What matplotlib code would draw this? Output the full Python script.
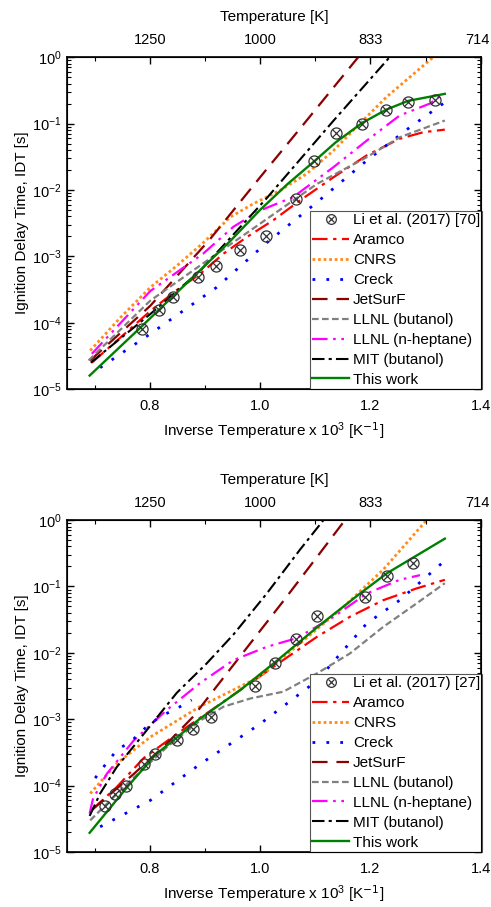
import numpy as np
import matplotlib
matplotlib.use('Agg')
import matplotlib.pyplot as plt
from matplotlib.legend_handler import HandlerTuple
from matplotlib.lines import Line2D
import matplotlib.transforms as mtransforms

plt.rcParams['font.family'] = ['Liberation Sans', 'DejaVu Sans']
plt.rcParams['mathtext.fontset'] = 'custom'
plt.rcParams['mathtext.rm'] = 'Liberation Sans'
plt.rcParams['mathtext.it'] = 'Liberation Sans:italic'

# ---- panel (a): Li et al. (2017) [70] ----
exp_a_x = [0.786, 0.816, 0.842, 0.888, 0.921, 0.963, 1.011, 1.065, 1.098, 1.137, 1.185, 1.229, 1.268, 1.318]
exp_a_y = [8.1e-5, 1.55e-4, 2.45e-4, 4.8e-4, 7.2e-4, 1.26e-3, 2.0e-3, 7.2e-3, 0.027, 0.072, 0.099, 0.162, 0.209, 0.229]

a_aramco_x = [0.695, 0.747, 0.801, 0.849, 0.891, 0.934, 0.976, 1.024, 1.072, 1.133, 1.193, 1.253, 1.296, 1.335]
a_aramco_y = [2.5e-5, 6.0e-5, 1.5e-4, 3.1e-4, 5.4e-4, 1.1e-3, 1.95e-3, 3.5e-3, 6.9e-3, 0.0155, 0.033, 0.059, 0.074, 0.081]
a_cnrs_x = [0.692, 0.747, 0.801, 0.849, 0.897, 0.946, 0.988, 1.036, 1.084, 1.133, 1.181, 1.229, 1.314]
a_cnrs_y = [3.8e-5, 1.2e-4, 3.4e-4, 7.2e-4, 1.6e-3, 3.9e-3, 6.2e-3, 9.8e-3, 0.0174, 0.039, 0.1, 0.25, 1.0]
a_creck_x = [0.71, 0.801, 0.921, 1.012, 1.103, 1.193, 1.271, 1.332]
a_creck_y = [2.1e-5, 6.8e-5, 3.4e-4, 1.6e-3, 6.5e-3, 0.0275, 0.087, 0.2]
a_jetsurf_x = [0.692, 0.801, 0.909, 1.0, 1.072, 1.178]
a_jetsurf_y = [2.7e-5, 1.8e-4, 1.8e-3, 0.0155, 0.083, 1.0]
a_llnl_but_x = [0.689, 0.801, 0.903, 1.0, 1.103, 1.193, 1.253, 1.335]
a_llnl_but_y = [2.7e-5, 2.15e-4, 8.5e-4, 3.1e-3, 0.0123, 0.031, 0.062, 0.111]
a_llnl_hep_x = [0.695, 0.801, 0.897, 0.952, 1.0, 1.06, 1.133, 1.193, 1.253, 1.308, 1.326]
a_llnl_hep_y = [3.4e-5, 3.0e-4, 1.1e-3, 2.8e-3, 4.9e-3, 7.8e-3, 0.022, 0.055, 0.132, 0.2, 0.257]
a_mit_x = [0.693, 0.801, 0.891, 1.012, 1.133, 1.235]
a_mit_y = [2.5e-5, 1.35e-4, 6.0e-4, 7.5e-3, 0.11, 1.0]
a_this_x = [0.691, 0.786, 0.842, 0.888, 0.946, 1.0, 1.05, 1.098, 1.137, 1.185, 1.229, 1.268, 1.335]
a_this_y = [1.6e-5, 8.9e-5, 2.5e-4, 5.8e-4, 1.7e-3, 5.0e-3, 0.0123, 0.0269, 0.052, 0.102, 0.162, 0.219, 0.28]

# ---- panel (b): Li et al. (2017) [27] ----
exp_b_x = [0.719, 0.737, 0.757, 0.789, 0.81, 0.849, 0.879, 0.911, 0.991, 1.027, 1.066, 1.104, 1.191, 1.23, 1.277]
exp_b_y = [5.0e-5, 7.6e-5, 1.0e-4, 2.15e-4, 3.0e-4, 4.8e-4, 7.2e-4, 1.07e-3, 3.2e-3, 7.1e-3, 0.0162, 0.0355, 0.069, 0.145, 0.224]

b_aramco_x = [0.695, 0.74, 0.789, 0.849, 0.921, 0.982, 1.042, 1.103, 1.163, 1.223, 1.283, 1.335]
b_aramco_y = [4.3e-5, 9.5e-5, 2.6e-4, 6.0e-4, 1.55e-3, 3.5e-3, 7.8e-3, 0.0174, 0.035, 0.062, 0.093, 0.126]
b_cnrs_x = [0.692, 0.74, 0.801, 0.891, 1.0, 1.072, 1.151, 1.223, 1.302]
b_cnrs_y = [7.6e-5, 2.15e-4, 5.4e-4, 1.55e-3, 4.4e-3, 0.0138, 0.049, 0.178, 1.0]
b_creck_x = [0.71, 0.801, 0.891, 1.0, 1.103, 1.193, 1.253, 1.335]
b_creck_y = [2.4e-5, 6.0e-5, 2.1e-4, 8.5e-4, 3.8e-3, 0.0275, 0.062, 0.245]
b_creck2_x = [0.701, 0.716, 0.74, 0.768, 0.795, 0.819, 0.849, 0.876]
b_creck2_y = [1.3e-4, 1.9e-4, 3.4e-4, 4.8e-4, 7.8e-4, 1.1e-3, 1.45e-3, 1.95e-3]
b_jetsurf_x = [0.695, 0.771, 0.831, 0.879, 0.921, 0.982, 1.042, 1.102, 1.154]
b_jetsurf_y = [4.3e-5, 1.5e-4, 4.3e-4, 1.1e-3, 3.1e-3, 0.0138, 0.060, 0.27, 1.0]
b_llnl_but_x = [0.692, 0.759, 0.831, 0.891, 0.934, 0.982, 1.042, 1.103, 1.163, 1.223, 1.283, 1.335]
b_llnl_but_y = [3.0e-5, 1.07e-4, 3.8e-4, 9.5e-4, 1.55e-3, 2.05e-3, 2.6e-3, 4.9e-3, 9.8e-3, 0.0245, 0.055, 0.112]
b_llnl_hep_x = [0.691, 0.697, 0.722, 0.771, 0.831, 0.891, 0.952, 1.012, 1.066, 1.133, 1.193, 1.253, 1.29]
b_llnl_hep_y = [3.8e-5, 6.3e-5, 1.5e-4, 4.8e-4, 1.38e-3, 3.5e-3, 7.8e-3, 0.0123, 0.0166, 0.0347, 0.078, 0.126, 0.148]
b_mit_x = [0.691, 0.71, 0.74, 0.789, 0.849, 0.903, 0.952, 1.012, 1.072, 1.115]
b_mit_y = [3.5e-5, 7.6e-5, 1.9e-4, 6.0e-4, 2.5e-3, 6.9e-3, 0.019, 0.078, 0.355, 1.0]
b_this_x = [0.691, 0.759, 0.81, 0.891, 0.964, 1.027, 1.104, 1.181, 1.23, 1.335]
b_this_y = [1.95e-5, 9.5e-5, 2.9e-4, 1.02e-3, 2.75e-3, 7.2e-3, 0.0245, 0.078, 0.158, 0.525]

temp_ticks = [0.8, 1.0, 1.2, 1.4]
temp_labels = ['1250', '1000', '833', '714']

styles = {
    'Aramco': dict(color='#ff0000', ls=(0, (7, 2.5, 1.5, 2.5)), lw=1.6),
    'CNRS': dict(color='#ff8c1a', ls=(0, (1, 1)), lw=2.0),
    'Creck': dict(color='#0000ff', ls=(0, (1, 4)), lw=2.0),
    'JetSurF': dict(color='#8b0000', ls=(0, (7, 4)), lw=1.6),
    'LLNL (butanol)': dict(color='#808080', ls=(0, (3, 1.5)), lw=1.6),
    'LLNL (n-heptane)': dict(color='#ff00ff', ls=(0, (7, 2.5, 1.2, 2.5, 1.2, 2.5)), lw=1.6),
    'MIT (butanol)': dict(color='#000000', ls=(0, (6, 2, 1.5, 2)), lw=1.5),
    'This work': dict(color='#008000', ls='-', lw=1.7),
}


def draw_panel(ax, exp_x, exp_y, exp_label, curves, extra=None):
    ax.plot(exp_x, exp_y, ls='none', marker='o', ms=8, mfc='none', mec='#333333', mew=0.9, zorder=5)
    ax.plot(exp_x, exp_y, ls='none', marker='x', ms=6, mec='#333333', mew=0.9, zorder=5)
    for name, (cx, cy) in curves.items():
        ax.plot(cx, cy, **styles[name])
    if extra is not None:
        ax.plot(extra[0], extra[1], **styles['Creck'])

    ax.set_yscale('log')
    ax.set_xlim(0.65, 1.4)
    ax.set_ylim(1e-5, 1)
    ax.set_xticks([0.8, 1.0, 1.2, 1.4])
    ax.set_xticklabels(['0.8', '1.0', '1.2', '1.4'])
    ax.set_xticks([0.7, 0.9, 1.1, 1.3], minor=True)
    ax.tick_params(which='both', direction='in', right=True, labelsize=10.5)
    ax.tick_params(which='major', length=5, width=1)
    ax.tick_params(which='minor', length=3, width=0.8)
    ax.tick_params(axis='x', which='both', top=False, pad=7)
    ax.tick_params(axis='y', pad=4)
    for s in ax.spines.values():
        s.set_linewidth(1.2)
    ax.set_xlabel(r'Inverse Temperature x 10$^3$ [K$^{\mathsf{-1}}$]', fontsize=11, labelpad=5)
    ax.set_ylabel('Ignition Delay Time, IDT [s]', fontsize=11, labelpad=2)

    top = ax.twiny()
    top.set_xlim(ax.get_xlim())
    top.set_xticks(temp_ticks)
    top.set_xticklabels(temp_labels)
    top.set_xticks([0.7, 0.9, 1.1, 1.3], minor=True)
    top.tick_params(which='both', direction='in', labelsize=10.5, pad=7)
    top.tick_params(which='major', length=5, width=1)
    top.tick_params(which='minor', length=3, width=0.8)
    top.set_xlabel('Temperature [K]', fontsize=11, labelpad=9)
    # keep the last temperature label inside the figure
    last = top.get_xticklabels()[-1]
    last.set_transform(last.get_transform() + mtransforms.ScaledTranslation(-3 / 100, 0, ax.figure.dpi_scale_trans))

    exp_handle = (Line2D([], [], ls='none', marker='o', ms=7, mfc='none', mec='#333333', mew=0.9),
                  Line2D([], [], ls='none', marker='x', ms=5, mec='#333333', mew=0.9))
    handles = [exp_handle] + [Line2D([], [], **styles[n]) for n in styles]
    labels = [exp_label] + list(styles.keys())
    leg = ax.legend(handles, labels, loc='lower right', bbox_to_anchor=(1.004, 0.0),
                    fontsize=11, handlelength=2.4, handletextpad=0.25, labelspacing=0.39,
                    borderpad=0.15, borderaxespad=0.0, fancybox=False, framealpha=1,
                    edgecolor='#555555', handler_map={tuple: HandlerTuple(ndivide=1, pad=0)})
    leg.get_frame().set_linewidth(0.8)


fig = plt.figure(figsize=(4.91, 9.07), dpi=100)
ax1 = fig.add_axes([0.1365, 0.571, 0.8425, 0.366])
ax2 = fig.add_axes([0.1365, 0.0606, 0.8425, 0.366])

draw_panel(ax1, exp_a_x, exp_a_y, 'Li et al. (2017) [70]', {
    'Aramco': (a_aramco_x, a_aramco_y),
    'CNRS': (a_cnrs_x, a_cnrs_y),
    'Creck': (a_creck_x, a_creck_y),
    'JetSurF': (a_jetsurf_x, a_jetsurf_y),
    'LLNL (butanol)': (a_llnl_but_x, a_llnl_but_y),
    'LLNL (n-heptane)': (a_llnl_hep_x, a_llnl_hep_y),
    'MIT (butanol)': (a_mit_x, a_mit_y),
    'This work': (a_this_x, a_this_y),
})

draw_panel(ax2, exp_b_x, exp_b_y, 'Li et al. (2017) [27]', {
    'Aramco': (b_aramco_x, b_aramco_y),
    'CNRS': (b_cnrs_x, b_cnrs_y),
    'Creck': (b_creck_x, b_creck_y),
    'JetSurF': (b_jetsurf_x, b_jetsurf_y),
    'LLNL (butanol)': (b_llnl_but_x, b_llnl_but_y),
    'LLNL (n-heptane)': (b_llnl_hep_x, b_llnl_hep_y),
    'MIT (butanol)': (b_mit_x, b_mit_y),
    'This work': (b_this_x, b_this_y),
}, extra=(b_creck2_x, b_creck2_y))

fig.savefig('out.png', dpi=100)
